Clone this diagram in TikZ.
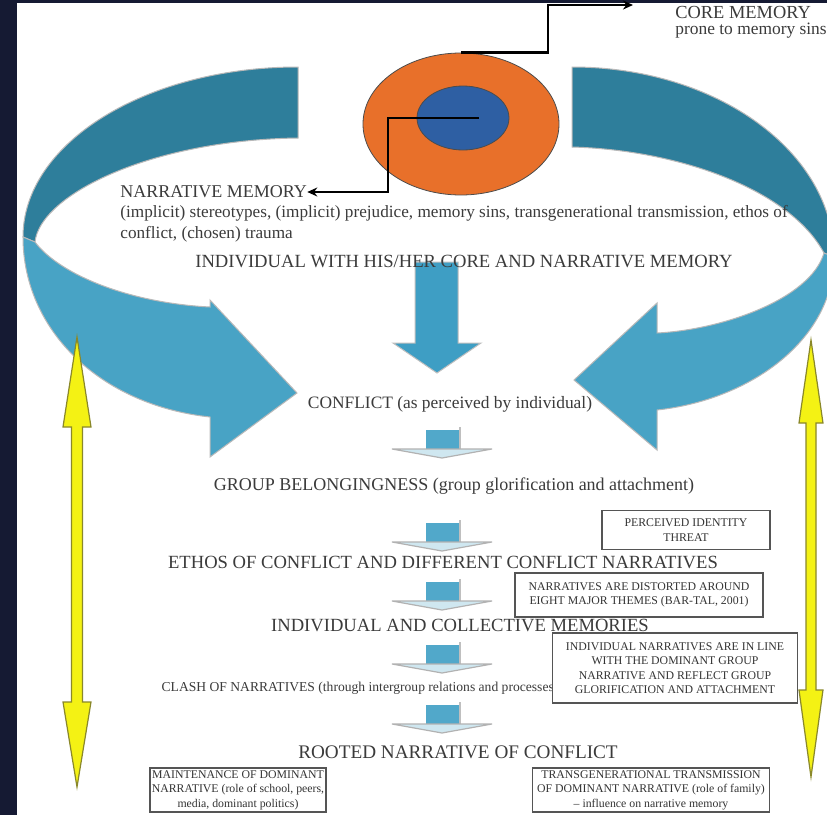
\documentclass[tikz,border=0pt]{standalone}
\usepackage{fontspec}
\setmainfont{Liberation Serif}
\usetikzlibrary{shapes.geometric,arrows.meta}
\definecolor{navy}{HTML}{151A33}
\definecolor{darkteal}{HTML}{2E7E9B}
\definecolor{lightteal}{HTML}{48A3C5}
\definecolor{arrowblue}{HTML}{3E9EC4}
\definecolor{ringorange}{HTML}{E8702A}
\definecolor{coreblue}{HTML}{2E5FA3}
\definecolor{yel}{HTML}{F4F214}
\definecolor{yeledge}{HTML}{8A882A}
\definecolor{ink}{HTML}{3B3B3B}
\definecolor{boxline}{HTML}{555555}
\tikzset{
  txt/.style={text=ink, inner sep=0pt},
  big/.style={txt, font=\fontsize{9.3}{11}\selectfont},
  notebox/.style={draw=boxline, line width=0.7pt, fill=white, text=black!80, align=center,
    inner sep=1pt, font=\fontsize{5.9}{7.2}\selectfont},
  ribbon/.style={draw=gray!55, line width=0.5pt},
  yelarrow/.style={fill=yel, draw=yeledge, line width=0.6pt},
  conn/.style={draw=black, line width=1.2pt, -{Stealth[length=5pt,width=4.5pt]}}
}
\begin{document}
\begin{tikzpicture}[x=0.5pt,y=-0.5pt]
	\useasboundingbox (0,0) rectangle (827,815);
	% page
	\fill[navy] (0,0) rectangle (827,815);
	\fill[white] (17,3) rectangle (827,815);
	\begin{scope}
	\clip (17,3) rectangle (827,815);
	% left ribbon
	\draw[ribbon, fill=darkteal] (298,67) .. controls (146,67) and (23,143) .. (23,237) -- (35,242)
		.. controls (40,195) and (150,140) .. (298,138) -- cycle;
	\draw[ribbon, fill=lightteal] (23,237) .. controls (23,330) and (100,405) .. (210,417) -- (210,457)
		-- (297,393) -- (210,300) -- (210,307) .. controls (130,303) and (60,275) .. (35,242) -- cycle;
	% right ribbon
	\draw[ribbon, fill=darkteal] (572,67) .. controls (717,67) and (834,152) .. (834,257) -- (824,253)
		.. controls (790,190) and (680,150) .. (572,147) -- cycle;
	\draw[ribbon, fill=lightteal] (834,257) .. controls (834,340) and (750,400) .. (657,410) -- (657,450)
		-- (574,380) -- (657,303) -- (657,333) .. controls (720,330) and (810,300) .. (824,253) -- cycle;
	\end{scope}
	% central arrow
	\draw[fill=arrowblue, draw=gray!50, line width=0.5pt] (415,262) -- (458,262) -- (458,343) -- (481,343)
		-- (437,373) -- (393,343) -- (415,343) -- cycle;
	% memory rings
	\node[ellipse, draw=black!70, fill=ringorange, minimum width=98pt, minimum height=71pt, inner sep=0pt] (outer) at (461,124) {};
	\node[ellipse, draw=black!70, fill=coreblue, minimum width=46pt, minimum height=32pt, inner sep=0pt] (core) at (463,118) {};
	\coordinate (corein) at (479,118);
	\coordinate (coretip) at (633,5);
	% texts
	\node[txt, anchor=west, font=\fontsize{9.2}{11}\selectfont] (coretxt) at (675,12) {CORE MEMORY};
	\node[txt, anchor=west, font=\fontsize{8.7}{10}\selectfont] (sinstxt) at (675,31) {prone to memory sins};
	\node[txt, anchor=west, font=\fontsize{9}{11}\selectfont] (narrmem) at (120,192) {NARRATIVE MEMORY};
	\node[txt, anchor=west, align=left, font=\fontsize{8.6}{10.5}\selectfont] (narrdesc) at (120,223.5)
		{(implicit) stereotypes, (implicit) prejudice, memory sins, transgenerational transmission, ethos of\\conflict, (chosen) trauma};
	\node[big] (individual) at (464,261) {INDIVIDUAL WITH HIS/HER CORE AND NARRATIVE MEMORY};
	\node[txt, font=\fontsize{8.7}{10}\selectfont] (conflict) at (450,404) {CONFLICT (as perceived by individual)};
	\node[txt, font=\fontsize{9}{10}\selectfont] (group) at (454,486) {GROUP BELONGINGNESS (group glorification and attachment)};
	\node[big] (ethos) at (443,562) {ETHOS OF CONFLICT AND DIFFERENT CONFLICT NARRATIVES};
	\node[big] (collective) at (460,625) {INDIVIDUAL AND COLLECTIVE MEMORIES};
	\node[txt, font=\fontsize{6.8}{8}\selectfont] (clash) at (360,688) {CLASH OF NARRATIVES (through intergroup relations and processes)};
	\node[big, font=\fontsize{9.6}{11}\selectfont] (rooted) at (458,752) {ROOTED NARRATIVE OF CONFLICT};
	% connectors to the rings
	\draw[conn] (outer.north) -| (548,30) |- (coretip);
	\draw[conn] (corein) -| (388,150) |- (narrmem.east);
	% small arrows
	\foreach \y in {430,523,582,645,705}{
		\fill[arrowblue!90] (426,\y) rectangle (459,\y+20);
		\draw[gray!50, line width=0.6pt] (460,\y-3) -- (460,\y+20);
		\draw[fill=arrowblue!25, draw=gray!60, line width=0.6pt] (392,\y+19) -- (492,\y+19) -- (442,\y+28) -- cycle;
	}
	% side boxes
	\node[notebox, minimum width=84pt, minimum height=19.5pt] (threat) at (686,530) {PERCEIVED IDENTITY\\THREAT};
	\node[notebox, minimum width=124pt, minimum height=22pt] (distort) at (639,595) {NARRATIVES ARE DISTORTED AROUND\\EIGHT MAJOR THEMES (BAR-TAL, 2001)};
	\node[notebox, minimum width=122.5pt, minimum height=35pt] (inline) at (675,668) {INDIVIDUAL NARRATIVES ARE IN LINE\\WITH THE DOMINANT GROUP\\NARRATIVE AND REFLECT GROUP\\GLORIFICATION AND ATTACHMENT};
	\node[notebox, minimum width=87pt, minimum height=22pt] (maintain) at (238,790) {MAINTENANCE OF DOMINANT\\NARRATIVE (role of school, peers,\\media, dominant politics)};
	\node[notebox, minimum width=118.5pt, minimum height=22pt] (transmit) at (651,790) {TRANSGENERATIONAL TRANSMISSION\\OF DOMINANT NARRATIVE (role of family)\\-- influence on narrative memory};
	% yellow double arrows
	\draw[yelarrow] (77,337) -- (91,427) -- (82.5,427) -- (82.5,702) -- (91,702) -- (77,787) -- (63,702)
		-- (71.5,702) -- (71.5,427) -- (63,427) -- cycle;
	\draw[yelarrow] (811,340) -- (823,423) -- (816,423) -- (816,690) -- (823,690) -- (811,777) -- (799,690)
		-- (806,690) -- (806,423) -- (799,423) -- cycle;
\end{tikzpicture}
\end{document}
